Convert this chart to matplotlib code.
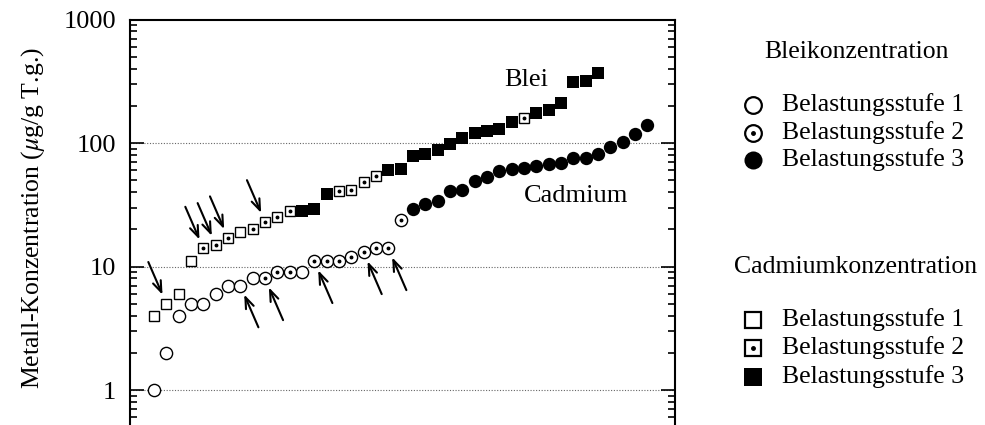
import numpy as np
import matplotlib.pyplot as plt
from matplotlib.lines import Line2D

plt.rcParams['font.family'] = 'Liberation Serif'
plt.rcParams['mathtext.fontset'] = 'stix'

# circles (Stufe 1 = open, 2 = dotted, 3 = filled)
circ_vals = [1.0, 2.0, 4.0, 5.0, 5.0, 6.0, 7.0, 7.0, 8.0,
             8.0, 9.0, 9.0, 9.0,
             11, 11, 11, 12, 13, 14, 14, 24,
             29, 32, 34, 41, 42, 49, 53, 59, 62, 63, 65, 68, 69, 75, 75, 81, 92, 102, 118, 139]
circ_level = [1]*9 + [2, 2, 2, 1] + [2]*8 + [3]*20

# squares
sq_vals = [4, 5, 6, 11, 14, 15, 17, 19, 20, 23, 25, 28,
           28, 29, 39, 41, 42, 48, 54, 60, 62, 79, 82, 87, 98, 110, 120, 126, 130, 149,
           159, 174, 185, 210, 310, 318, 366]
sq_level = [1, 1, 1, 1, 2, 2, 2, 1, 2, 2, 2, 2,
            3, 3, 3, 2, 2, 2, 2, 3, 3, 3, 3, 3, 3, 3, 3, 3, 3, 3,
            2, 3, 3, 3, 3, 3, 3]

circ_arrows = [7, 9, 13, 17, 19]
sq_arrows = [1, 4, 5, 6, 9]

legend_labels = ['Belastungsstufe 1', 'Belastungsstufe 2', 'Belastungsstufe 3']

fig = plt.figure(figsize=(9.85, 4.25), dpi=100)
ax = fig.add_axes([130/985, -0.0696, 545/985, 1.0237])
ax.set_yscale('log')
ax.set_ylim(0.3, 1000)
ax.set_xlim(-1.95, 42.25)


def draw(vals, levels, marker, ms):
    x = np.arange(len(vals))
    v = np.array(vals, dtype=float)
    lv = np.array(levels)
    m = lv == 1
    ax.plot(x[m], v[m], marker, ls='none', ms=ms, mfc='white', mec='black', mew=1.0, zorder=3)
    m = lv == 2
    ax.plot(x[m], v[m], marker, ls='none', ms=ms, mfc='white', mec='black', mew=1.0, zorder=3)
    ax.plot(x[m], v[m], 'o', ls='none', ms=1.8, color='black', zorder=4)
    m = lv == 3
    ax.plot(x[m], v[m], marker, ls='none', ms=ms + 0.8, color='black', mew=0, zorder=3)


draw(circ_vals, circ_level, 'o', 8.8)
draw(sq_vals, sq_level, 's', 7.2)

ap = dict(arrowstyle='->, head_length=0.8, head_width=0.3', lw=1.5, color='black', shrinkA=0, shrinkB=7)
for i in sq_arrows:
    ax.annotate('', xy=(i, sq_vals[i]), xytext=(-13, 30), textcoords='offset points', arrowprops=ap)
for i in circ_arrows:
    ax.annotate('', xy=(i, circ_vals[i]), xytext=(13, -30), textcoords='offset points', arrowprops=ap)

ax.text(30.2, 324, 'Blei', fontsize=19, ha='center', va='center')
ax.text(34.2, 37, 'Cadmium', fontsize=19, ha='center', va='center')

for y in [1, 10, 100]:
    ax.axhline(y, color='#666666', lw=0.8, ls=(0, (1, 1.5)), zorder=1)

ax.set_yticks([1, 10, 100, 1000])
ax.set_yticklabels(['1', '10', '100', '1000'])
ax.tick_params(axis='y', which='both', direction='in', right=True, labelsize=19, width=1.2, pad=10)
ax.tick_params(axis='y', which='major', length=10)
ax.tick_params(axis='y', which='minor', length=5)
ax.tick_params(axis='x', bottom=False, labelbottom=False)
for s in ax.spines.values():
    s.set_linewidth(1.5)

fig.text(33.5/985, 1 - 218/425, r'Metall-Konzentration ($\mu$g/g T.g.)', rotation=90,
         ha='center', va='center', fontsize=18.5)

# legend
fig.text(857/985, 1 - 52/425, 'Bleikonzentration', ha='center', va='center', fontsize=18.5)
fig.text(856/985, 1 - 267/425, 'Cadmiumkonzentration', ha='center', va='center', fontsize=18.5)
rows_c = [105, 133, 160]
rows_s = [320, 348, 377]
for k in range(3):
    for mk, yy in [('o', rows_c[k]), ('s', rows_s[k])]:
        fy = 1 - yy/425
        if k == 2:
            fig.add_artist(Line2D([752.7/985], [fy], marker=mk, ls='none', ms=13, color='black', mew=0))
        else:
            fig.add_artist(Line2D([752.7/985], [fy], marker=mk, ls='none', ms=12, mfc='white', mec='black', mew=1.6))
            if k == 1:
                fig.add_artist(Line2D([752.7/985], [fy], marker='o', ls='none', ms=2.5, color='black'))
        fig.text(781.7/985, fy, legend_labels[k], ha='left', va='center', fontsize=18.5)

plt.savefig('out.png', dpi=100)
